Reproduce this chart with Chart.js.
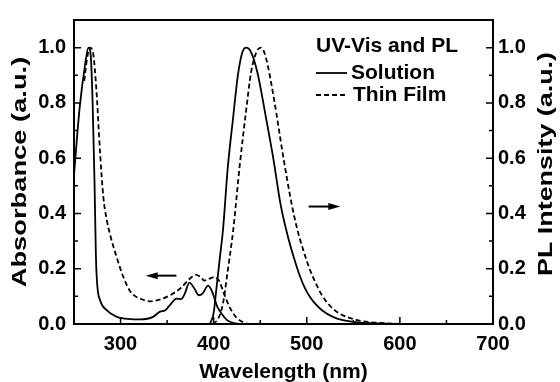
<!DOCTYPE html>
<html><head><meta charset="utf-8">
<script src="https://cdn.jsdelivr.net/npm/chart.js@4.4.0/dist/chart.umd.min.js"></script>
<style>html,body{margin:0;padding:0;background:#fff}</style>
</head><body>
<canvas id="c" width="560" height="382" style="display:block;width:560px;height:382px"></canvas>
<script>
// ---- data ----
const uvSolX = [250,256,262,265.5,268,270,272,273.5,275,278,285,296,310,321,335,342,348,353,360,365,369,374,379,384,388,394,398,404,409,414,420,428,600];
const uvSolY = [0.54,0.78,0.94,1.0,0.97,0.80,0.52,0.25,0.14,0.086,0.05,0.026,0.018,0.017,0.026,0.044,0.05,0.068,0.092,0.09,0.11,0.15,0.13,0.104,0.11,0.139,0.12,0.062,0.035,0.015,0.005,0,0];
const uvFilmX = [261,264,267,270.5,274,278,281.5,285,289,296,303,310,316,321,331,342,353,365,374,381,386,390,395,401,406,410,414,418,424,432,440,600];
const uvFilmY = [0.88,0.96,1.0,0.98,0.85,0.62,0.46,0.38,0.32,0.24,0.17,0.12,0.10,0.092,0.082,0.088,0.104,0.131,0.163,0.178,0.17,0.157,0.163,0.17,0.155,0.12,0.085,0.055,0.025,0.006,0,0];
const plSolX = [396,400,403,407,410,415,421,426,431,435,440,447,456,464,472,481,488,493,498,504,510,517,528,540,555,600];
const plSolY = [0,0.04,0.13,0.25,0.34,0.56,0.75,0.9,0.985,1.0,0.985,0.91,0.75,0.6,0.43,0.30,0.22,0.17,0.13,0.095,0.07,0.048,0.026,0.013,0.006,0];
const plFilmX = [399,405,410,415,421,428,435,440,446,451,456,465,474,484,490,496,503,510,517,526,535,553,570,600];
const plFilmY = [0,0.02,0.074,0.19,0.34,0.574,0.776,0.907,0.985,1.0,0.965,0.81,0.62,0.43,0.34,0.27,0.2,0.145,0.1,0.062,0.038,0.015,0.006,0];
const xTicks = [300,400,500,600,700];
const xMinorTicks = [250,350,450,550,650];
const yTicks = [0,0.2,0.4,0.6,0.8,1.0];
const yMinorTicks = [0.1,0.3,0.5,0.7,0.9];
const legendTitle = 'UV-Vis and PL';
const legendLabels = ['Solution','Thin Film'];
const xTitle = 'Wavelength (nm)';
const yTitle = 'Absorbance (a.u.)';
const y2Title = 'PL Intensity (a.u.)';
const arrowLeft = {from:360, to:327, y:0.175};
const arrowRight = {from:502, to:536, y:0.425};

const FONT = '"Liberation Sans", Arial, Helvetica, sans-serif';
const pts = (xs, ys) => xs.map((x,i)=>({x:x, y:ys[i]}));

function ds(xs, ys, axis, dashed){
  return {data: pts(xs, ys), yAxisID: axis, borderColor:'#000', backgroundColor:'#000',
    borderWidth:1.8, borderDash: dashed ? [5,3] : [], pointRadius:0, fill:false,
    tension:0.4, cubicInterpolationMode:'monotone'};
}

const decor = {
  id:'decor',
  afterDatasetsDraw(chart){
    const ctx = chart.ctx, a = chart.chartArea;
    const sx = chart.scales.x, sy = chart.scales.y, sy2 = chart.scales.y2;
    ctx.save();
    ctx.strokeStyle = '#000'; ctx.fillStyle = '#000'; ctx.lineWidth = 2; ctx.setLineDash([]);
    ctx.strokeRect(a.left, a.top, a.right - a.left, a.bottom - a.top);
    ctx.lineWidth = 1.5;
    ctx.beginPath();
    xTicks.forEach(v=>{const p = sx.getPixelForValue(v); ctx.moveTo(p, a.bottom); ctx.lineTo(p, a.bottom-7);});
    xMinorTicks.forEach(v=>{const p = sx.getPixelForValue(v); ctx.moveTo(p, a.bottom); ctx.lineTo(p, a.bottom-4);});
    yTicks.forEach(v=>{const p = sy.getPixelForValue(v); ctx.moveTo(a.left, p); ctx.lineTo(a.left+7, p);
      const q = sy2.getPixelForValue(v); ctx.moveTo(a.right, q); ctx.lineTo(a.right-7, q);});
    yMinorTicks.forEach(v=>{const p = sy.getPixelForValue(v); ctx.moveTo(a.left, p); ctx.lineTo(a.left+4, p);
      const q = sy2.getPixelForValue(v); ctx.moveTo(a.right, q); ctx.lineTo(a.right-4, q);});
    ctx.stroke();
    // arrows
    function arrow(spec, scaleY){
      const x0 = sx.getPixelForValue(spec.from), x1 = sx.getPixelForValue(spec.to), y = scaleY.getPixelForValue(spec.y);
      const dir = Math.sign(x1 - x0), head = 12;
      ctx.lineWidth = 2;
      ctx.beginPath(); ctx.moveTo(x0, y); ctx.lineTo(x1 - dir*head + dir*2, y); ctx.stroke();
      ctx.beginPath(); ctx.moveTo(x1, y); ctx.lineTo(x1 - dir*head, y-3.5); ctx.lineTo(x1 - dir*head, y+3.5); ctx.closePath(); ctx.fill();
    }
    arrow(arrowLeft, sy); arrow(arrowRight, sy2);
    // legend
    ctx.textBaseline = 'middle'; ctx.textAlign = 'left';
    ctx.font = 'bold 21px ' + FONT;
    ctx.fillText(legendTitle, 316, 46);
    ctx.lineWidth = 1.8;
    ctx.beginPath(); ctx.moveTo(316, 73); ctx.lineTo(347, 73); ctx.stroke();
    ctx.fillText(legendLabels[0], 351, 73);
    ctx.setLineDash([5,3]);
    ctx.beginPath(); ctx.moveTo(316, 95); ctx.lineTo(348, 95); ctx.stroke();
    ctx.setLineDash([]);
    ctx.fillText(legendLabels[1], 353, 95);
    // vertical axis titles (read bottom to top, stretched along their length like the reference)
    ctx.textAlign = 'center';
    ctx.save();
    ctx.translate(20, 172);
    ctx.rotate(-Math.PI/2);
    ctx.scale(1.3, 1);
    ctx.fillText(yTitle, 0, 0);
    ctx.restore();
    ctx.save();
    ctx.translate(546, 164);
    ctx.rotate(-Math.PI/2);
    ctx.scale(1.28, 1);
    ctx.fillText(y2Title, 0, 0);
    ctx.restore();
    ctx.restore();
  }
};

const tickFont = {family: FONT, size: 20, weight: 'bold'};
const titleFont = {family: FONT, size: 21, weight: 'bold'};

new Chart(document.getElementById('c'), {
  type: 'line',
  data: { datasets: [
    ds(uvSolX, uvSolY, 'y', false),
    ds(uvFilmX, uvFilmY, 'y', true),
    ds(plSolX, plSolY, 'y2', false),
    ds(plFilmX, plFilmY, 'y2', true)
  ]},
  options: {
    responsive:false, animation:false, devicePixelRatio:1,
    layout:{padding:{top:14, left:0, right:0, bottom:0}},
    plugins:{legend:{display:false}, tooltip:{enabled:false}},
    scales:{
      x:{type:'linear', min:250, max:700,
        afterBuildTicks: s => { s.ticks = xTicks.map(v=>({value:v})); },
        ticks:{font:tickFont, color:'#000', padding:8, maxRotation:0, autoSkip:false},
        grid:{display:false, drawTicks:false}, border:{display:false},
        title:{display:true, text:xTitle, font:titleFont, color:'#000', padding:{top:0,bottom:-3}},
        afterFit: s => { s.height = 58; }
      },
      y:{type:'linear', position:'left', min:0, max:1.1,
        afterBuildTicks: s => { s.ticks = yTicks.map(v=>({value:v})); },
        ticks:{font:tickFont, color:'#000', padding:8, callback: v => v.toFixed(1)},
        grid:{display:false, drawTicks:false}, border:{display:false},
        title:{display:false},
        afterFit: s => { s.width = 74; }
      },
      y2:{type:'linear', position:'right', min:0, max:1.1,
        afterBuildTicks: s => { s.ticks = yTicks.map(v=>({value:v})); },
        ticks:{font:tickFont, color:'#000', padding:5, callback: v => v.toFixed(1)},
        grid:{display:false, drawTicks:false}, border:{display:false},
        title:{display:false},
        afterFit: s => { s.width = 67; }
      }
    }
  },
  plugins:[decor]
});
</script>
</body></html>
